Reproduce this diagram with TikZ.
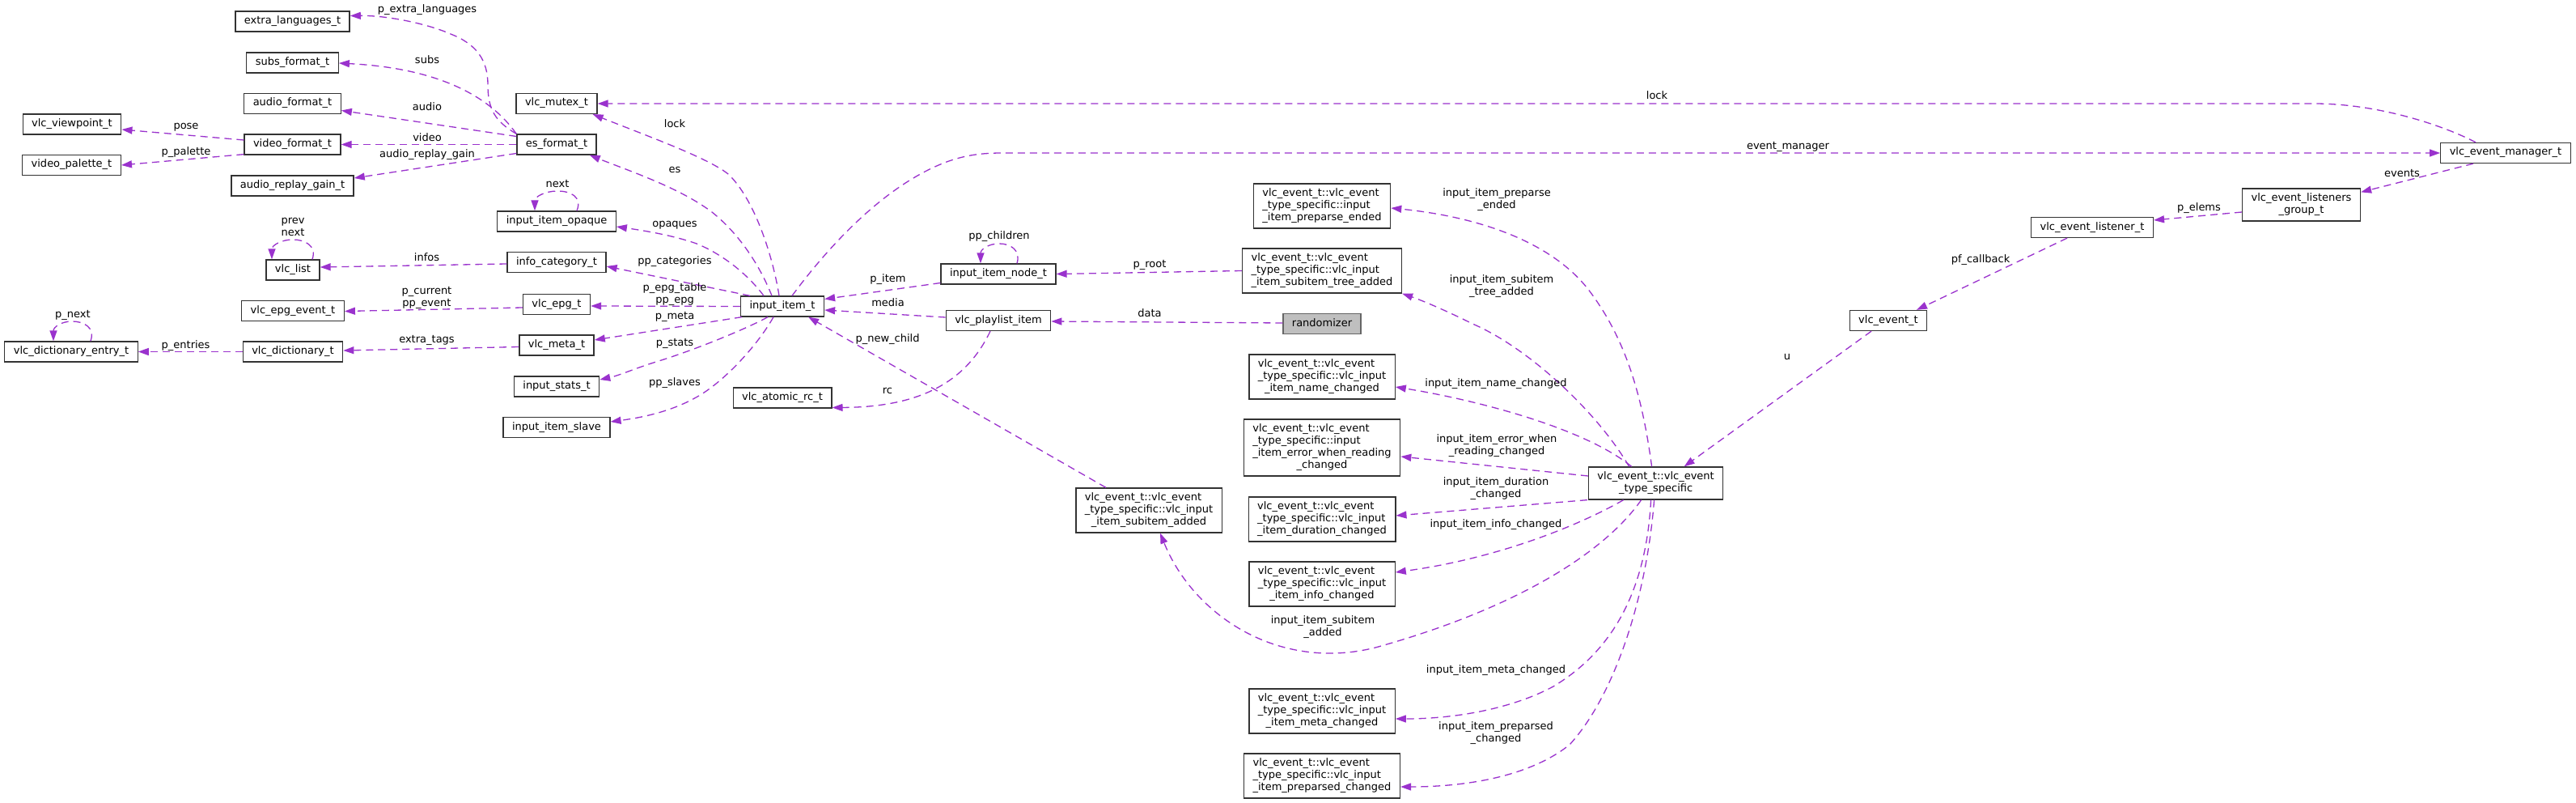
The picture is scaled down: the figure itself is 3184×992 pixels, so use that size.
\documentclass[tikz,border=0pt]{standalone}
\usepackage{fontspec}
\setmainfont{DejaVu Sans}
\usetikzlibrary{arrows.meta,calc}
\definecolor{edgec}{HTML}{9A32CD}
\newcommand{\ml}[1]{\begin{tabular}{@{}l@{}}#1\end{tabular}}
\newcommand{\lc}[1]{\multicolumn{1}{@{}c@{}}{#1}}
\tikzset{
  cls/.style={draw=black!80, line width=1.3pt, fill=white, inner xsep=11pt, inner ysep=5pt, font=\fontsize{13}{15}\selectfont},
  rel/.style={draw=edgec, line width=1.3pt, dash pattern=on 9pt off 6pt, -{Triangle[length=13pt,width=9pt]}},
  lab/.style={font=\fontsize{13}{15}\selectfont, inner sep=0pt, text height=10pt, text depth=3pt},
  labm/.style={font=\fontsize{13}{15}\selectfont, inner sep=0pt, align=center}
}
\begin{document}
\begin{tikzpicture}[x=1pt,y=-1pt]
\useasboundingbox (0,0) rectangle (3184,992);
\fill[white] (0,0) rectangle (3184,992);
% ---- nodes
\node[cls] (exl) at (361.5,26.5) {\ml{extra\_languages\_t}};
\node[cls] (subs) at (361.5,77.5) {\ml{subs\_format\_t}};
\node[cls] (audf) at (361.5,128) {\ml{audio\_format\_t}};
\node[cls] (vp) at (89,153.5) {\ml{vlc\_viewpoint\_t}};
\node[cls] (vidf) at (361.5,178.5) {\ml{video\_format\_t}};
\node[cls] (pal) at (88.5,204) {\ml{video\_palette\_t}};
\node[cls] (arg) at (361.5,229.5) {\ml{audio\_replay\_gain\_t}};
\node[cls] (list) at (362,333.5) {\ml{vlc\_list}};
\node[cls] (epgev) at (362,384) {\ml{vlc\_epg\_event\_t}};
\node[cls] (dent) at (88,434.5) {\ml{vlc\_dictionary\_entry\_t}};
\node[cls] (dict) at (362,434.5) {\ml{vlc\_dictionary\_t}};
\node[cls] (mutex) at (688,128) {\ml{vlc\_mutex\_t}};
\node[cls] (esf) at (688,178.5) {\ml{es\_format\_t}};
\node[cls] (opq) at (688,273.5) {\ml{input\_item\_opaque}};
\node[cls] (icat) at (688,324) {\ml{info\_category\_t}};
\node[cls] (epg) at (688,376) {\ml{vlc\_epg\_t}};
\node[cls] (meta) at (688,426.5) {\ml{vlc\_meta\_t}};
\node[cls] (stats) at (688,477.5) {\ml{input\_stats\_t}};
\node[cls] (slave) at (688,528) {\ml{input\_item\_slave}};
\node[cls] (item) at (967,378.5) {\ml{input\_item\_t}};
\node[cls] (arc) at (967,491.5) {\ml{vlc\_atomic\_rc\_t}};
\node[cls] (inode) at (1234,338.5) {\ml{input\_item\_node\_t}};
\node[cls] (pli) at (1234,396) {\ml{vlc\_playlist\_item}};
\node[cls, fill=black!25, draw=black!60] (rnd) at (1634,400) {\ml{randomizer}};
\node[cls] (pe) at (1634,254.5) {\ml{vlc\_event\_t::vlc\_event\\\_type\_specific::input\\\lc{\_item\_preparse\_ended}}};
\node[cls] (sta) at (1634,334.5) {\ml{vlc\_event\_t::vlc\_event\\\_type\_specific::vlc\_input\\\lc{\_item\_subitem\_tree\_added}}};
\node[cls] (nc) at (1634,465.5) {\ml{vlc\_event\_t::vlc\_event\\\_type\_specific::vlc\_input\\\lc{\_item\_name\_changed}}};
\node[cls] (ewr) at (1634,553) {\ml{vlc\_event\_t::vlc\_event\\\_type\_specific::input\\\_item\_error\_when\_reading\\\lc{\_changed}}};
\node[cls] (sa) at (1420,630.5) {\ml{vlc\_event\_t::vlc\_event\\\_type\_specific::vlc\_input\\\lc{\_item\_subitem\_added}}};
\node[cls] (dc) at (1634,641.5) {\ml{vlc\_event\_t::vlc\_event\\\_type\_specific::vlc\_input\\\lc{\_item\_duration\_changed}}};
\node[cls] (ic) at (1634,721.5) {\ml{vlc\_event\_t::vlc\_event\\\_type\_specific::vlc\_input\\\lc{\_item\_info\_changed}}};
\node[cls] (mc) at (1634,878.5) {\ml{vlc\_event\_t::vlc\_event\\\_type\_specific::vlc\_input\\\lc{\_item\_meta\_changed}}};
\node[cls] (pc) at (1634,958.5) {\ml{vlc\_event\_t::vlc\_event\\\_type\_specific::vlc\_input\\\lc{\_item\_preparsed\_changed}}};
\node[cls] (ts) at (2046.6,597) {\ml{vlc\_event\_t::vlc\_event\\\lc{\_type\_specific}}};
\node[cls] (ev) at (2334,396) {\ml{vlc\_event\_t}};
\node[cls] (lis) at (2586,281) {\ml{vlc\_event\_listener\_t}};
\node[cls] (grp) at (2844.5,253) {\ml{vlc\_event\_listeners\\\lc{\_group\_t}}};
\node[cls] (mgr) at (3097,189) {\ml{vlc\_event\_manager\_t}};
% ---- connectors
\draw[rel] (esf.north west) .. controls (612,150) and (603,135) .. (603,105) .. controls (603,75) and (590,55) .. (557,42) .. controls (530,30) and (480,19) .. ($(exl.east)+(0,-7)$);
\draw[rel] (esf.north west) .. controls (605,118) and (540,84) .. ($(subs.east)+(0,0.5)$);
\draw[rel] ($(esf.west)+(0,-10)$) -- ($(audf.east)+(0,8.5)$);
\draw[rel] (esf.west) -- (vidf.east);
\draw[rel] ($(esf.west)+(0,11)$) -- ($(arg.east)+(0,-9.5)$);
\draw[rel] ($(vidf.west)+(0,-5.5)$) -- ($(vp.east)+(0,6.5)$);
\draw[rel] ($(vidf.south west)+(0,-1)$) -- (pal.east);
\draw[rel] ($(item.north)+(-4,0)$) .. controls (955,315) and (932,245) .. (900,215) .. controls (875,195) and (800,168) .. ($(mutex.south east)+(-6,0)$);
\draw[rel] ($(mgr.north)+(-37,0)$) .. controls (3020,155) and (2940,128) .. (2860,128) -- (mutex.east);
\draw[rel] ($(item.north)+(-13,0)$) .. controls (940,330) and (915,290) .. (880,262) .. controls (840,232) and (780,212) .. ($(esf.south east)+(-9,0)$);
\draw[rel] ($(opq.north)+(25,0)$) .. controls (720,243) and (705,236) .. (689,236) .. controls (674,236) and (661,243) .. ($(opq.north)+(-27,0)$);
\draw[rel] ($(item.north)+(-23,0)$) .. controls (925,340) and (895,315) .. (861,301) .. controls (830,290) and (790,284) .. ($(opq.east)+(0,6.5)$);
\draw[rel] ($(item.north)+(-40,0)$) -- ($(icat.east)+(0,5)$);
\draw[rel] ($(icat.west)+(0,2)$) -- ($(list.east)+(0,-3.5)$);
\draw[rel] ($(list.north)+(24,0)$) .. controls (392,303) and (376,296) .. (362,296) .. controls (348,296) and (336,303) .. ($(list.north)+(-26,0)$);
\draw[rel] (item.west) -- ($(epg.east)+(0,2)$);
\draw[rel] ($(epg.west)+(0,4)$) -- ($(epgev.east)+(0,0.5)$);
\draw[rel] ($(item.south west)+(2,0)$) -- ($(meta.east)+(0,-6.5)$);
\draw[rel] ($(meta.west)+(0,2)$) -- ($(dict.east)+(0,-1.5)$);
\draw[rel] (dict.west) -- (dent.east);
\draw[rel] ($(dent.north)+(24,0)$) .. controls (118,404) and (103,397) .. (89,397) .. controls (76,397) and (66,404) .. ($(dent.north)+(-22,0)$);
\draw[rel] ($(item.south)+(-18,0)$) .. controls (925,405) and (860,432) .. (811,447) .. controls (785,455) and (765,464) .. ($(stats.east)+(0,-8.5)$);
\draw[rel] ($(item.south)+(-11,0)$) .. controls (940,420) and (910,455) .. (880,478) .. controls (845,505) and (800,515) .. ($(slave.east)+(0,-7)$);
\draw[rel] ($(inode.west)+(0,11)$) -- ($(item.east)+(0,-9)$);
\draw[rel] ($(inode.north)+(23,0)$) .. controls (1262,309) and (1249,301) .. (1235,301) .. controls (1222,301) and (1212,308) .. ($(inode.north)+(-22,0)$);
\draw[rel] ($(pli.west)+(0,-4)$) -- ($(item.east)+(0,4.5)$);
\draw[rel] ($(sa.north)+(-53,0)$) -- ($(item.south east)+(-20,0)$);
\draw[rel] ($(pli.south)+(-10,0)$) .. controls (1195,470) and (1140,503) .. ($(arc.east)+(0,12)$);
\draw[rel] ($(rnd.west)+(0,-1)$) -- ($(pli.east)+(0,1)$);
\draw[rel] (sta.west) -- (inode.east);
\draw[rel] ($(item.north)+(12,0)$) .. controls (1020,310) and (1090,230) .. (1170,200) .. controls (1195,191) and (1215,189) .. (1240,189) -- (mgr.west);
\draw[rel] ($(mgr.south)+(-40,0)$) -- ($(grp.north east)+(0,5)$);
\draw[rel] ($(grp.west)+(0,9)$) -- ($(lis.east)+(0,-9)$);
\draw[rel] ($(lis.south)+(-31,0)$) -- ($(ev.north)+(35,0)$);
\draw[rel] ($(ev.south)+(-21,0)$) -- ($(ts.north)+(35,0)$);
\draw[rel] ($(ts.north)+(-5,0)$) .. controls (2030,490) and (2010,420) .. (1965,360) .. controls (1920,300) and (1830,268) .. ($(pe.east)+(0,2.5)$);
\draw[rel] ($(ts.north)+(-33,0)$) .. controls (1975,510) and (1890,430) .. (1820,400) .. controls (1790,385) and (1760,372) .. (sta.south east);
\draw[rel] ($(ts.north)+(-30,0)$) .. controls (1960,530) and (1830,495) .. ($(nc.east)+(0,12.5)$);
\draw[rel] ($(ts.west)+(0,-9)$) -- ($(ewr.east)+(0,11)$);
\draw[rel] ($(ts.south west)+(-1,0)$) -- ($(dc.east)+(0,-4.5)$);
\draw[rel] ($(ts.south)+(-40,0)$) .. controls (1950,650) and (1850,690) .. ($(ic.east)+(0,-14.5)$);
\draw[rel] ($(ts.south)+(-18,0)$) .. controls (1985,680) and (1880,750) .. (1700,800) .. controls (1580,830) and (1475,760) .. ($(sa.south)+(14,0)$);
\draw[rel] ($(ts.south)+(-6,0)$) .. controls (2035,720) and (2000,800) .. (1920,848) .. controls (1870,875) and (1800,888) .. ($(mc.east)+(0,9.5)$);
\draw[rel] ($(ts.south)+(-2,0)$) .. controls (2035,740) and (1995,860) .. (1940,920) .. controls (1890,960) and (1810,972) .. ($(pc.east)+(0,13.5)$);
% ---- labels
\node[lab] (l1) at (528,12) {p\_extra\_languages};
\node[lab] (l2) at (528,75) {subs};
\node[lab] (l3) at (528,133) {audio};
\node[lab] (l4) at (528,171) {video};
\node[lab] (l5) at (528,191) {audio\_replay\_gain};
\node[lab] (l6) at (230,156) {pose};
\node[lab] (l7) at (230,188) {p\_palette};
\node[lab] (l8) at (834,154) {lock};
\node[lab] (l9) at (2048,119) {lock};
\node[lab] (l10) at (834,210) {es};
\node[lab] (l11) at (689,228) {next};
\node[lab] (l12) at (834,277) {opaques};
\node[lab] (l13) at (834,323) {pp\_categories};
\node[lab] (l14) at (527.5,319) {infos};
\node[labm] (l15) at (362,280) {prev\\next};
\node[labm] (l16) at (834,363.5) {p\_epg\_table\\pp\_epg};
\node[labm] (l17) at (527.5,367.5) {p\_current\\pp\_event};
\node[lab] (l18) at (834,391) {p\_meta};
\node[lab] (l19) at (527.5,420) {extra\_tags};
\node[lab] (l20) at (229.6,427) {p\_entries};
\node[lab] (l21) at (90,389) {p\_next};
\node[lab] (l22) at (834,424) {p\_stats};
\node[lab] (l23) at (834,473) {pp\_slaves};
\node[lab] (l24) at (1097.5,345) {p\_item};
\node[lab] (l25) at (1235,292) {pp\_children};
\node[lab] (l26) at (1097.5,375) {media};
\node[lab] (l27) at (1097,419) {p\_new\_child};
\node[lab] (l28) at (1097,483) {rc};
\node[lab] (l29) at (1421,388) {data};
\node[lab] (l30) at (1421,327) {p\_root};
\node[lab] (l31) at (2210,181) {event\_manager};
\node[lab] (l32) at (2969,215) {events};
\node[lab] (l33) at (2718,257) {p\_elems};
\node[lab] (l34) at (2448,321) {pf\_callback};
\node[lab] (l35) at (2209,441) {u};
\node[labm] (l36) at (1850,247) {input\_item\_preparse\\\_ended};
\node[labm] (l37) at (1856,354) {input\_item\_subitem\\\_tree\_added};
\node[lab] (l38) at (1849,474) {input\_item\_name\_changed};
\node[labm] (l39) at (1850,551) {input\_item\_error\_when\\\_reading\_changed};
\node[labm] (l40) at (1849,604) {input\_item\_duration\\\_changed};
\node[lab] (l41) at (1849,648) {input\_item\_info\_changed};
\node[labm] (l42) at (1635,775) {input\_item\_subitem\\\_added};
\node[lab] (l43) at (1849,828) {input\_item\_meta\_changed};
\node[labm] (l44) at (1849,905.5) {input\_item\_preparsed\\\_changed};
\end{tikzpicture}
\end{document}
